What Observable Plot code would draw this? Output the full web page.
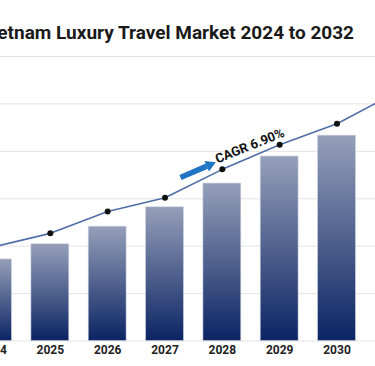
<!DOCTYPE html>
<html>
<head>
<meta charset="utf-8">
<script src="https://cdn.jsdelivr.net/npm/d3@7"></script>
<script src="https://cdn.jsdelivr.net/npm/@observablehq/plot@0.6"></script>
<style>
  html, body { margin: 0; padding: 0; background: #fff; width: 375px; height: 366px; overflow: hidden; }
  #title { position: relative; width: 375px; height: 50px; overflow: hidden; }
  #title span { position: absolute; right: 21px; top: 23px; white-space: nowrap; font-family: Roboto, sans-serif; font-weight: 700; font-size: 19px; line-height: 19px; color: #1a1a1a; }
  svg { overflow: hidden; }
</style>
</head>
<body>
<div id="title"><span>Vietnam Luxury Travel Market 2024 to 2032</span></div>
<div id="chart"></div>
<script>
const years = [2024, 2025, 2026, 2027, 2028, 2029, 2030, 2031];
const barYears = [2024, 2025, 2026, 2027, 2028, 2029, 2030];
const barValues = [1.72, 2.04, 2.41, 2.82, 3.32, 3.89, 4.33];
const lineValues = [1.98, 2.27, 2.73, 3.02, 3.62, 4.14, 4.58, 5.22];
const gridTicks = [0, 1, 2, 3, 4, 5, 6];
const cagrLabel = "CAGR 6.90%";
const arrowShaft = [{x1: 2027.27, y1: 3.448, x2: 2027.731, y2: 3.688}];
const arrowHead = [{x: 2027.781, y: 3.714}];
const labelPos = [{x: 2027.915, y: 3.743, text: cagrLabel}];
const halfBar = 0.33;

const bars = barYears.map((year, i) => ({year, value: barValues[i]}));
const points = years.map((year, i) => ({year, value: lineValues[i]}));

const chart = Plot.plot({
  width: 375,
  height: 316,
  marginLeft: 0,
  marginRight: 0,
  marginTop: 6,
  marginBottom: 25.5,
  style: {fontFamily: "Roboto, sans-serif", background: "#fff", overflow: "hidden"},
  x: {domain: [2024, 2030], range: [-7.5, 336.5], axis: null},
  y: {domain: [0, 6], axis: null},
  marks: [
    Plot.gridY(gridTicks, {stroke: "#e4e4e4", strokeOpacity: 1, strokeWidth: 1}),
    Plot.rectY(bars, {x1: d => d.year - halfBar, x2: d => d.year + halfBar, y: "value", fill: "url(#barGrad)", stroke: "#c9cfdd", strokeWidth: 0.8, strokeOpacity: 0.7}),
    Plot.line(points, {x: "year", y: "value", stroke: "#4f6ea8", strokeWidth: 1.6}),
    Plot.dot(points, {x: "year", y: "value", r: 3, fill: "#111"}),
    Plot.link(arrowShaft, {x1: "x1", y1: "y1", x2: "x2", y2: "y2", stroke: "#1f74c4", strokeWidth: 5.5, strokeLinecap: "butt"}),
    Plot.dot(arrowHead, {x: "x", y: "y", symbol: "triangle", r: 4.2, fill: "#1f74c4", rotate: 67}),
    Plot.text(labelPos, {x: "x", y: "y", text: "text", textAnchor: "start", lineAnchor: "bottom", rotate: -22, fontSize: 13, fontWeight: 700, fill: "#111"}),
    Plot.axisX(barYears, {tickSize: 0, tickPadding: 4, fontSize: 12, fontWeight: 700, fill: "#222", tickFormat: d => String(d)})
  ]
});

const ns = "http://www.w3.org/2000/svg";
const defs = document.createElementNS(ns, "defs");
const grad = document.createElementNS(ns, "linearGradient");
grad.setAttribute("id", "barGrad");
grad.setAttribute("x1", "0"); grad.setAttribute("y1", "0");
grad.setAttribute("x2", "0"); grad.setAttribute("y2", "1");
[["0", "#959fb9"], ["1", "#0b2463"]].forEach(([o, c]) => {
  const s = document.createElementNS(ns, "stop");
  s.setAttribute("offset", o);
  s.setAttribute("stop-color", c);
  grad.appendChild(s);
});
defs.appendChild(grad);
chart.insertBefore(defs, chart.firstChild);
document.getElementById("chart").appendChild(chart);
</script>
</body>
</html>
